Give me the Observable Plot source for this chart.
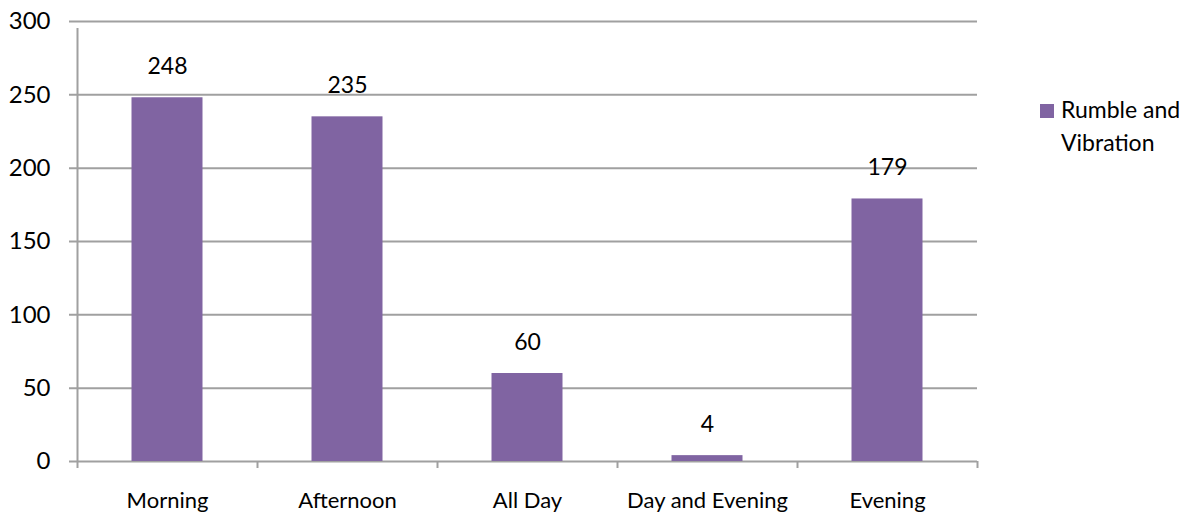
<!DOCTYPE html>
<html>
<head>
<meta charset="utf-8">
<script src="https://cdn.jsdelivr.net/npm/d3@7"></script>
<script src="https://cdn.jsdelivr.net/npm/@observablehq/plot@0.6"></script>
<style>
  html, body { margin: 0; padding: 0; background: #fff; }
  #wrap { position: relative; width: 1192px; height: 516px; font-family: "Lato", sans-serif; }
  #legend { position: absolute; left: 1040px; top: 93px; font-size: 23px; line-height: 33px; color: #000; }
  #legend .sw { display: inline-block; width: 14px; height: 14px; background: #8064A2; margin-right: 7px; vertical-align: 0px; }
  #legend .l2 { padding-left: 21px; }
</style>
</head>
<body>
<div id="wrap"><div id="legend"><div><span class="sw"></span>Rumble and</div><div class="l2">Vibration</div></div></div>
<script>
const categories = ["Morning", "Afternoon", "All Day", "Day and Evening", "Evening"];
const values = [248, 235, 60, 4, 179];
const yTicks = [0, 50, 100, 150, 200, 250, 300];
const seriesName = "Rumble and Vibration";

const data = categories.map((c, i) => ({category: c, value: values[i]}));
const grid = "#a0a0a0";
const font = "Lato, sans-serif";

const chart = Plot.plot({
  width: 1192,
  height: 516,
  marginLeft: 77,
  marginRight: 215,
  marginTop: 21,
  marginBottom: 55,
  style: {fontFamily: font, background: "transparent"},
  x: {domain: categories, padding: 0, label: null},
  y: {domain: [0, 300], label: null},
  marks: [
    Plot.ruleY(yTicks, {stroke: grid, strokeWidth: 2, insetLeft: -8}),
    Plot.barY(data, {x: "category", y: "value", fill: "#8064A2", insetLeft: 54.5, insetRight: 54.5}),
    Plot.ruleX(categories, {x: d => d, dx: -90, y1: 0, y2: 0, insetBottom: -7, stroke: grid, strokeWidth: 2}),
    Plot.ruleX([categories[categories.length - 1]], {x: d => d, dx: 90, y1: 0, y2: 0, insetBottom: -7, stroke: grid, strokeWidth: 2}),
    Plot.ruleX([categories[0]], {x: d => d, dx: -90, y1: 0, y2: 300, insetBottom: -7, stroke: grid, strokeWidth: 2}),
    Plot.text(data, {x: "category", y: "value", text: d => String(d.value), dy: -31, lineAnchor: "middle", fontSize: 23, fill: "#000"}),
    Plot.axisY({ticks: yTicks, tickSize: 0, tickPadding: 27, fontSize: 24, label: null, tickFormat: d => String(d)}),
    Plot.axisX({tickSize: 0, tickPadding: 31, fontSize: 22, label: null})
  ]
});
document.getElementById("wrap").prepend(chart);
chart.style.position = "absolute";
chart.style.left = "0";
chart.style.top = "0";
</script>
</body>
</html>
